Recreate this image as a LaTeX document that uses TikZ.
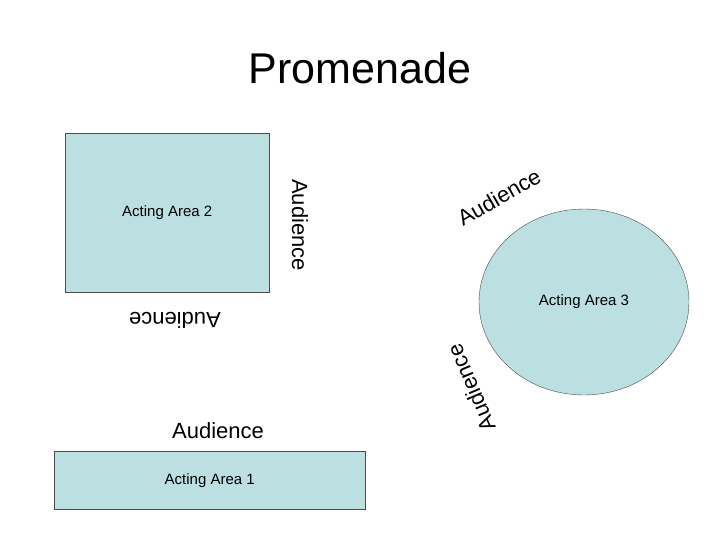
\documentclass[tikz,border=0pt]{standalone}
\usepackage{fontspec}
\setmainfont{Liberation Sans}
\usetikzlibrary{shapes.geometric}
\begin{document}
\begin{tikzpicture}[x=1pt,y=-1pt,
  area/.style={draw=black!70,fill={rgb,255:red,188;green,224;blue,226},font=\fontsize{15}{17}\selectfont},
  aud/.style={font=\fontsize{22}{26}\selectfont,inner sep=0}]
\useasboundingbox (0,0) rectangle (720,540);
\node[font=\fontsize{43}{48}\selectfont] (title) at (360,68) {Promenade};
\node[area,minimum width=204,minimum height=159,anchor=north west] (a2) at (65,133) {Acting Area 2};
\node[area,minimum width=311,minimum height=58,anchor=north west] (a1) at (54,451) {Acting Area 1};
\node[area,ellipse,minimum width=210,minimum height=186,inner sep=0] (a3) at (584,302) {Acting Area 3};
\node[aud,rotate=-90] (u1) at (300,225) {Audience};
\node[aud,rotate=180] (u2) at (175,320) {Audience};
\node[aud] (u3) at (218,431) {Audience};
\node[aud,rotate=30] (u4) at (499,197) {Audience};
\node[aud,rotate=113] (u5) at (471,388) {Audience};
\end{tikzpicture}
\end{document}
